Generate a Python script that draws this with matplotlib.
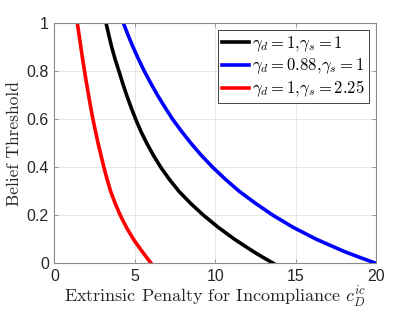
import matplotlib
matplotlib.use("Agg")
import matplotlib.pyplot as plt

# 읽어낸 곡선 값 (x: 벌점, y: 믿음 임계값)
black_x = [3.22, 3.39, 3.57, 3.78, 4.02, 4.25, 4.5, 4.77, 5.06, 5.38, 5.75,
           6.16, 6.62, 7.15, 7.75, 8.47, 9.28, 10.19, 11.21, 12.35, 12.97, 13.62]
black_y = [1.0, 0.95, 0.9, 0.85, 0.8, 0.75, 0.7, 0.65, 0.6, 0.55, 0.5,
           0.45, 0.4, 0.35, 0.3, 0.25, 0.2, 0.15, 0.1, 0.05, 0.025, 0.0]

blue_x = [4.3, 4.59, 4.9, 5.24, 5.6, 6.0, 6.42, 6.88, 7.36, 7.91, 8.5, 9.14,
          9.85, 10.64, 11.5, 12.51, 13.6, 14.85, 16.3, 18.0, 18.98, 20.0]
blue_y = [1.0, 0.95, 0.9, 0.85, 0.8, 0.75, 0.7, 0.65, 0.6, 0.55, 0.5, 0.45,
          0.4, 0.35, 0.3, 0.25, 0.2, 0.15, 0.1, 0.05, 0.025, 0.0]

red_x = [1.43, 1.54, 1.65, 1.76, 1.88, 2.0, 2.13, 2.26, 2.4, 2.56, 2.72, 2.9,
         3.08, 3.28, 3.5, 3.78, 4.1, 4.48, 4.92, 5.45, 5.73, 6.02]
red_y = [1.0, 0.95, 0.9, 0.85, 0.8, 0.75, 0.7, 0.65, 0.6, 0.55, 0.5, 0.45,
         0.4, 0.35, 0.3, 0.25, 0.2, 0.15, 0.1, 0.05, 0.025, 0.0]

labels = [r"$\gamma_d=1,\!\gamma_s=1$",
          r"$\gamma_d=0.88,\!\gamma_s=1$",
          r"$\gamma_d=1,\!\gamma_s=2.25$"]
xticks = [0, 5, 10, 15, 20]
yticks = [0, 0.2, 0.4, 0.6, 0.8, 1]
ytick_labels = ["0", "0.2", "0.4", "0.6", "0.8", "1"]

plt.rcParams["mathtext.fontset"] = "cm"
plt.rcParams["axes.unicode_minus"] = False

fig = plt.figure(figsize=(4.15, 3.12), dpi=100)
ax = fig.add_axes([0.131, 0.156, 0.775, 0.769])

ax.plot(black_x, black_y, color="black", lw=2.6, label=labels[0])
ax.plot(blue_x, blue_y, color="blue", lw=2.6, label=labels[1])
ax.plot(red_x, red_y, color="red", lw=2.6, label=labels[2])

ax.set_xlim(0, 20)
ax.set_ylim(0, 1)
ax.set_xticks(xticks)
ax.set_yticks(yticks)
ax.set_yticklabels(ytick_labels)
ax.grid(True, color="#e6e6e6", lw=0.7)
ax.set_axisbelow(True)

for s in ax.spines.values():
    s.set_color("#8a8a8a")
    s.set_linewidth(0.8)
ax.tick_params(direction="in", length=3, width=0.6, color="#8a8a8a",
               labelsize=11.5, labelcolor="#262626", top=True, right=True, pad=4)
for t in ax.get_xticklabels() + ax.get_yticklabels():
    t.set_family("Liberation Sans")

ax.set_xlabel(r"Extrinsic Penalty for Incompliance $c_D^{ic}$",
              family="cmr10", fontsize=13, color="#262626", labelpad=1)
ax.set_ylabel("Belief Threshold", family="cmr10", fontsize=12.5,
              color="#262626", labelpad=3)

leg = ax.legend(loc="upper right", fontsize=12, handlelength=1.6,
                handletextpad=0.2, borderpad=0.25, labelspacing=0.15,
                borderaxespad=0.4, fancybox=False, framealpha=1)
leg.get_frame().set_edgecolor("#262626")
leg.get_frame().set_linewidth(0.6)

fig.savefig("out.png", dpi=100)
